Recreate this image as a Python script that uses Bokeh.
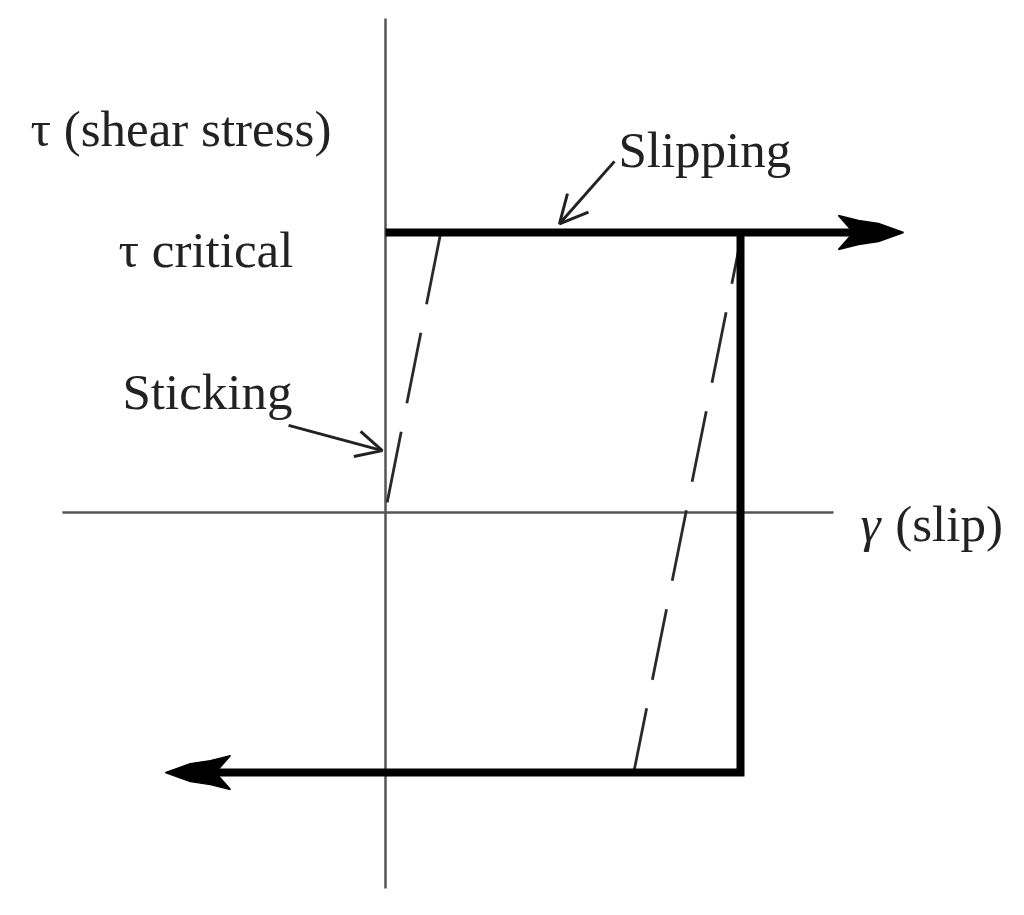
from bokeh.plotting import figure
from bokeh.models import Range1d, Arrow, OpenHead
from bokeh.core.properties import value
from bokeh.embed import file_html
from bokeh.resources import INLINE

# ---------------- data (stick-slip friction model) ----------------
tau_c = 1.0            # critical shear stress (slipping)
tau_rev = -0.929       # reverse critical stress
gamma_rev = 1.0        # slip at load reversal
gamma_fwd_end = 1.459  # end of forward slipping branch (arrow tip)
gamma_back_end = -0.620  # end of reverse slipping branch (arrow tip)

axis_gamma = [-0.910, 1.262]
axis_tau = [-1.343, 1.764]

stick_gamma = [0.155, 0.003]
stick_tau = [0.996, 0.025]
unload_gamma = [1.0, 0.701]
unload_tau = [0.971, -0.918]

labels = ["\u03c4 (shear stress)", "\u03c4 critical", "Slipping", "Sticking"]
x_label_sym = "\u03b3"
x_label_txt = "(slip)"

# ---------------- layout ----------------
W, H = 1008, 899
OX, OY = 385, 512      # origin in frame pixels
SX, SY = 355.0, 280.0  # pixels per data unit
px = 1.0 / SX
py = 1.0 / SY

p = figure(width=W, height=H, output_backend="svg", toolbar_location=None,
           x_range=Range1d(-OX / SX, (W - OX) / SX),
           y_range=Range1d(-(H - OY) / SY, OY / SY),
           min_border=0, x_axis_location=None, y_axis_location=None)
p.grid.visible = False
p.outline_line_color = None
p.background_fill_color = "white"
p.border_fill_color = "white"

AX = "#555555"
# axes
p.line(axis_gamma, [0, 0], line_color=AX, line_width=2.5)
p.line([0, 0], axis_tau, line_color=AX, line_width=2.5)

# elastic (sticking) dashed lines
p.line(stick_gamma, stick_tau, line_color="#2a2a2a", line_width=2.8,
       line_dash="72 29")
p.line(unload_gamma, unload_tau, line_color="#2a2a2a", line_width=2.8,
       line_dash="72 29", line_dash_offset=28)

LW = 8
HEAD_L, NOTCH = 65, 50
# forward slipping branch
p.line([0, gamma_fwd_end - NOTCH * px], [tau_c, tau_c], line_color="black",
       line_width=LW, line_cap="butt")
# unloading/reverse branch
p.line([gamma_rev, gamma_rev, gamma_back_end + NOTCH * px],
       [tau_c, tau_rev, tau_rev], line_color="black", line_width=LW,
       line_join="miter", line_cap="butt")


def head(tx, ty, d):
    # notched arrowhead shape in pixel offsets, direction d=+1 right, -1 left
    shape = [(0, 0), (-25, 9), (-45, 12), (-HEAD_L, 17), (-NOTCH, 0),
             (-HEAD_L, -17), (-45, -12), (-25, -9)]
    xs = [tx + d * sx * px for sx, sy in shape]
    ys = [ty + sy * py for sx, sy in shape]
    p.patch(xs, ys, fill_color="black", line_color="black", line_width=1.5)


head(gamma_fwd_end, tau_c, 1)
head(gamma_back_end, tau_rev, -1)

# annotation arrows
p.add_layout(Arrow(end=OpenHead(size=28, line_width=3, line_color="#222222"),
                   x_start=0.645, y_start=1.254, x_end=0.490, y_end=1.031,
                   line_width=3, line_color="#222222"))
p.add_layout(Arrow(end=OpenHead(size=26, line_width=3, line_color="#222222"),
                   x_start=-0.273, y_start=0.311, x_end=-0.009, y_end=0.221,
                   line_width=3, line_color="#222222"))

# texts
FONT = value("Liberation Serif")
FS = "51px"
tx = [-1.0, -0.752, 0.656, -0.741]
ty = [1.371, 0.939, 1.296, 0.432]
p.text(x=tx, y=ty, text=labels, text_font=FONT, text_font_size=FS,
       text_color="#222222", text_baseline="alphabetic", text_align="left")
p.text(x=[1.338], y=[-0.040], text=[x_label_sym], text_font=FONT,
       text_font_style="italic", text_font_size=FS, text_color="#222222",
       text_baseline="alphabetic", text_align="left")
p.text(x=[1.436], y=[-0.040], text=[x_label_txt], text_font=FONT,
       text_font_size=FS, text_color="#222222",
       text_baseline="alphabetic", text_align="left")

open("out.html", "w").write(file_html(p, INLINE))
